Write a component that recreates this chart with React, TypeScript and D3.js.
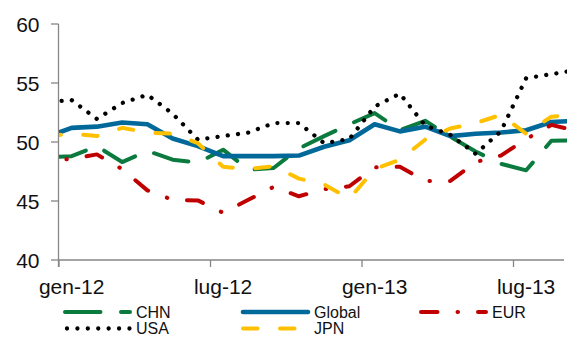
import React from "react";
import * as d3 from "d3";

// Months: dic-11 (partly hidden left of axis) ... set-13 (partly hidden right)
const months = [
  "dic-11", "gen-12", "feb-12", "mar-12", "apr-12", "mag-12", "giu-12", "lug-12", "ago-12", "set-12", "ott-12", "nov-12", "dic-12",
  "gen-13", "feb-13", "mar-13", "apr-13", "mag-13", "giu-13", "lug-13", "ago-13", "set-13",
];

const chn = [48.7, 48.8, 49.65, 48.3, 49.25, 48.5, 48.25, 49.35, 47.65, 47.8, 49.45, 50.5, 51.5, 52.45, 51.0, 51.8, 50.45, 49.2, 48.15, 47.6, 50.1, 50.15];
const glob = [50.4, 51.2, 51.3, 51.65, 51.5, 50.3, 49.65, 48.8, 48.8, 48.8, 48.85, 49.6, 50.15, 51.5, 50.9, 51.3, 50.5, 50.7, 50.8, 51.0, 51.7, 51.8];
const eur = [48.5, 48.55, 48.95, 47.7, 45.9, 45.1, 45.05, 44.0, 45.1, 46.2, 45.4, 46.0, 46.25, 47.85, 47.9, 46.7, 46.7, 48.3, 48.85, 50.25, 51.45, 50.95];
const usa = [53.4, 53.55, 51.95, 53.3, 54.0, 52.4, 50.2, 50.5, 50.8, 51.6, 51.6, 49.9, 50.25, 53.0, 54.1, 51.4, 50.6, 49.0, 50.9, 55.4, 55.75, 56.1];
const jpn = [50.5, 50.7, 50.5, 51.2, 50.8, 50.7, 49.9, 47.9, 47.7, 47.95, 46.9, 46.4, 45.2, 47.7, 48.5, 50.2, 51.15, 51.6, 52.3, 50.7, 52.15, 52.3];

const tickLabels = ["gen-12", "lug-12", "gen-13", "lug-13"];
const yTicks = [40, 45, 50, 55, 60];

const seriesNames = ["CHN", "Global", "EUR", "USA", "JPN"];

const W = 567;
const H = 338;
const FONT = "'Liberation Sans', Arial, sans-serif";

export default function App() {
  const left = 59;
  const right = 564;
  const top = 24;
  const bottom = 260;
  const nCats = 20; // gen-12 .. ago-13 within the axis

  // t = months since start of gen-12 (category boundaries)
  const x = d3.scaleLinear().domain([0, nCats]).range([left, right]);
  const y = d3.scaleLinear().domain([40, 60]).range([bottom, top]);
  const catPos = (i: number) => x(i - 0.5); // i = index into months (dic-11 = 0)

  const line = d3
    .line<number>()
    .x((_, i) => catPos(i))
    .y((v) => y(v));

  const styles: Record<string, { color: string; width: number; dash?: string; offset?: number; cap: string }> = {
    CHN: { color: "#0B7A3E", width: 4, dash: "35.5 20.5", offset: -5, cap: "round" },
    Global: { color: "#00699A", width: 4.6, cap: "round" },
    EUR: { color: "#C00000", width: 4, dash: "16.5 20 0.5 20", offset: 16.5, cap: "round" },
    USA: { color: "#000000", width: 4.3, dash: "0.01 10.3", offset: -5, cap: "round" },
    JPN: { color: "#FFC000", width: 4, dash: "14.5 22.5", offset: 0, cap: "round" },
  };
  const dataMap: Record<string, number[]> = { CHN: chn, Global: glob, EUR: eur, USA: usa, JPN: jpn };

  const axisColor = "#868686";

  const legendCols = [65, 243, 421];
  const legendRows = [312, 328.5];
  const legendPos: Record<string, [number, number]> = {
    CHN: [0, 0],
    Global: [1, 0],
    EUR: [2, 0],
    USA: [0, 1],
    JPN: [1, 1],
  };

  return (
    <svg width={W} height={H} style={{ position: "absolute", left: 0, top: 0, background: "#fff" }}>
      <defs>
        <clipPath id="plotClip">
          <rect x={left} y={0} width={W - left} height={H} />
        </clipPath>
      </defs>

      {/* y axis */}
      <line x1={left - 0.5} x2={left - 0.5} y1={top} y2={bottom + 7} stroke={axisColor} strokeWidth={1.3} />
      {yTicks.map((t) => (
        <g key={t}>
          <line x1={left - 8} x2={left - 0.5} y1={y(t)} y2={y(t)} stroke={axisColor} strokeWidth={1.3} />
          <text x={39.5} y={y(t)} dy="0.36em" textAnchor="end" fontFamily={FONT} fontSize={21} fill="#111">
            {t}
          </text>
        </g>
      ))}

      {/* x axis */}
      <line x1={left - 0.5} x2={right} y1={bottom} y2={bottom} stroke={axisColor} strokeWidth={1.3} />
      {tickLabels.map((lab) => {
        const idx = months.indexOf(lab);
        return (
          <g key={lab}>
            <line x1={x(idx - 1)} x2={x(idx - 1)} y1={bottom} y2={bottom + 7} stroke={axisColor} strokeWidth={1.3} />
            <text x={catPos(idx)} y={293.5} textAnchor="middle" fontFamily={FONT} fontSize={21} fill="#111">
              {lab}
            </text>
          </g>
        );
      })}

      {/* series */}
      <g clipPath="url(#plotClip)">
        {seriesNames.map((name) => {
          const s = styles[name];
          return (
            <path
              key={name}
              d={line(dataMap[name]) || ""}
              fill="none"
              stroke={s.color}
              strokeWidth={s.width}
              strokeDasharray={s.dash}
              strokeDashoffset={s.offset}
              strokeLinecap={s.cap as any}
              strokeLinejoin="round"
            />
          );
        })}
      </g>

      {/* legend */}
      {seriesNames.map((name) => {
        const s = styles[name];
        const [c, r] = legendPos[name];
        const lx = legendCols[c];
        const ly = legendRows[r];
        return (
          <g key={name}>
            <line
              x1={lx + (name === "USA" ? 2 : 0)}
              x2={lx + 65}
              y1={ly}
              y2={ly}
              stroke={s.color}
              strokeWidth={s.width}
              strokeDasharray={name === "USA" ? "0.01 10.4" : s.dash}
              strokeLinecap={s.cap as any}
            />
            <text x={lx + 71} y={ly} dy="0.36em" fontFamily={FONT} fontSize={16} fill="#111">
              {name}
            </text>
          </g>
        );
      })}
    </svg>
  );
}
